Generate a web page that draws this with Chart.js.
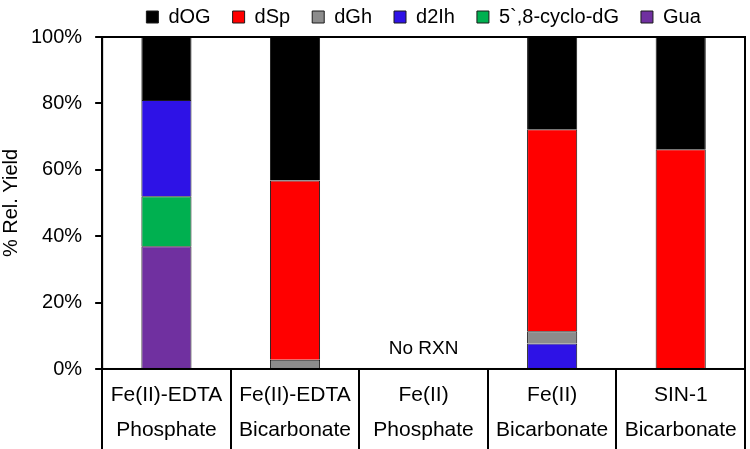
<!DOCTYPE html>
<html>
<head>
<meta charset="utf-8">
<script src="https://cdn.jsdelivr.net/npm/chart.js@4.4.1/dist/chart.umd.min.js"></script>
<style>
  html, body { margin: 0; padding: 0; background: #fff; }
  #wrap { width: 750px; height: 449px; }
</style>
</head>
<body>
<div id="wrap"><canvas id="yieldChart"></canvas></div>
<script>
const categories = [
  ["Fe(II)-EDTA", "Phosphate"],
  ["Fe(II)-EDTA", "Bicarbonate"],
  ["Fe(II)", "Phosphate"],
  ["Fe(II)", "Bicarbonate"],
  ["SIN-1", "Bicarbonate"]
];

// stacked bottom to top
const gua    = [37, null, null, null, null];
const cyclo  = [15, null, null, null, null];
const d2Ih   = [29, null, null, 7.7, null];
const dGh    = [null, 2.8, null, 3.7, null];
const dSp    = [null, 54, null, 60.8, 66.2];
const dOG    = [19, 43.2, null, 27.8, 33.8];

const yTicks = [0, 20, 40, 60, 80, 100];
const noRxnIndex = 2;

const FONT = "'Liberation Sans', Arial, sans-serif";

/* frame, lower dividers and "No RXN" note */
const framePlugin = {
  id: "frame",
  afterDatasetsDraw(c) {
    const { ctx, chartArea: a, scales } = c;
    const x = scales.x;
    ctx.save();
    ctx.strokeStyle = "#000";
    ctx.lineWidth = 2;
    ctx.strokeRect(a.left, a.top, a.right - a.left, a.bottom - a.top);

    const step = (a.right - a.left) / categories.length;
    for (let i = 0; i <= categories.length; i++) {
      const xx = i === categories.length ? a.right : Math.round(x.getPixelForValue(i) - step / 2);
      ctx.beginPath();
      ctx.moveTo(xx, a.bottom);
      ctx.lineTo(xx, c.height);
      ctx.stroke();
    }

    ctx.fillStyle = "#000";
    ctx.font = "19px " + FONT;
    ctx.textAlign = "center";
    ctx.textBaseline = "middle";
    ctx.fillText("No RXN", x.getPixelForValue(noRxnIndex), scales.y.getPixelForValue(6));
    ctx.restore();
  }
};

function ds(label, data, color) {
  return {
    label,
    data,
    backgroundColor: color,
    borderColor: "#1a1a1a",
    borderWidth: 1,
    barPercentage: 0.39,
    categoryPercentage: 1
  };
}

new Chart(document.getElementById("yieldChart"), {
  type: "bar",
  data: {
    labels: categories,
    datasets: [
      ds("Gua", gua, "#7030A0"),
      ds("5`,8-cyclo-dG", cyclo, "#00B050"),
      ds("d2Ih", d2Ih, "#2E12E6"),
      ds("dGh", dGh, "#8C8C8C"),
      ds("dSp", dSp, "#FF0000"),
      ds("dOG", dOG, "#000000")
    ]
  },
  options: {
    responsive: true,
    maintainAspectRatio: false,
    animation: false,
    layout: { padding: { left: 0, right: 5, top: -15, bottom: -8 } },
    plugins: {
      legend: {
        position: "top",
        fullSize: false,
        reverse: true,
        labels: {
          boxWidth: 12,
          boxHeight: 12,
          padding: 22,
          color: "#000",
          font: { family: FONT, size: 20 }
        }
      },
      tooltip: { enabled: false }
    },
    scales: {
      x: {
        stacked: true,
        grid: { display: false, drawTicks: false },
        border: { display: false },
        ticks: {
          color: "#000",
          padding: 9,
          maxRotation: 0,
          autoSkip: false,
          font: { family: FONT, size: 21, lineHeight: 1.667 }
        }
      },
      y: {
        stacked: true,
        min: 0,
        max: 100,
        afterBuildTicks(s) { s.ticks = yTicks.map(v => ({ value: v })); },
        grid: { drawOnChartArea: false, drawTicks: true, tickLength: 7, color: "#000", lineWidth: 2 },
        border: { display: true, color: "#000", width: 2 },
        ticks: {
          color: "#000",
          padding: 13,
          font: { family: FONT, size: 20 },
          callback: v => v + "%"
        },
        title: {
          display: true,
          text: "% Rel. Yield",
          color: "#000",
          font: { family: FONT, size: 20, lineHeight: 1.0 },
          padding: { top: 1, bottom: -3 }
        }
      }
    }
  },
  plugins: [framePlugin]
});
</script>
</body>
</html>
